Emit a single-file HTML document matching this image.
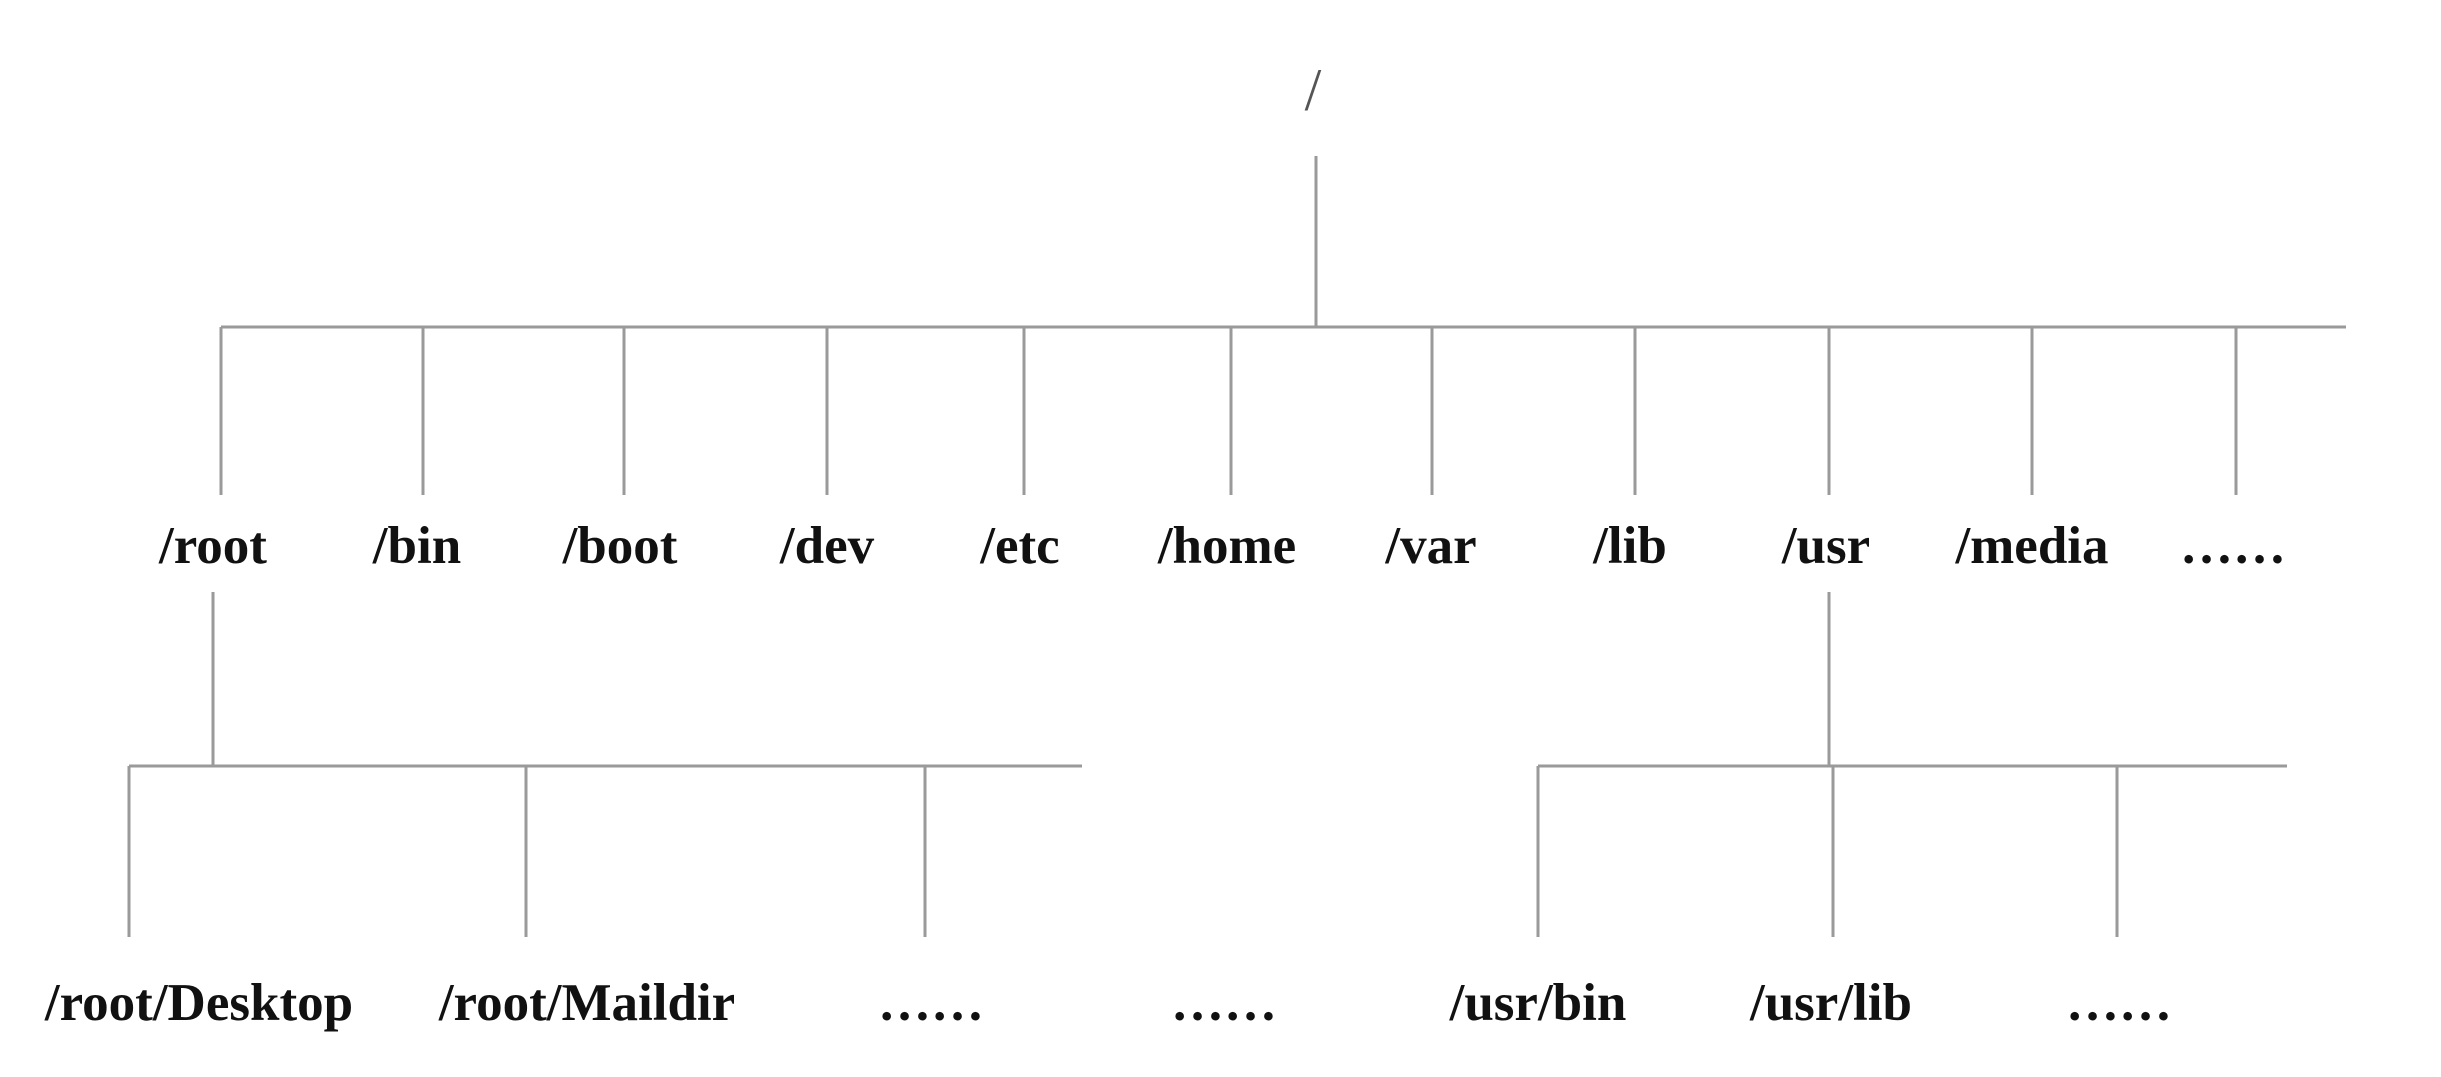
<!DOCTYPE html>
<html><head><style>
html,body{margin:0;padding:0;background:#fff;}
svg{display:block;}
text{font-family:"Liberation Serif",serif;font-weight:bold;font-size:53px;fill:#111;text-anchor:middle;}
</style></head><body>
<svg width="2441" height="1077" viewBox="0 0 2441 1077" xmlns="http://www.w3.org/2000/svg">
<g stroke="#9a9a9a" stroke-width="3" fill="none">
<line x1="1316" y1="156" x2="1316" y2="327"/>
<line x1="221" y1="327" x2="2346" y2="327"/>
<line x1="221" y1="327" x2="221" y2="495"/>
<line x1="423" y1="327" x2="423" y2="495"/>
<line x1="624" y1="327" x2="624" y2="495"/>
<line x1="827" y1="327" x2="827" y2="495"/>
<line x1="1024" y1="327" x2="1024" y2="495"/>
<line x1="1231" y1="327" x2="1231" y2="495"/>
<line x1="1432" y1="327" x2="1432" y2="495"/>
<line x1="1635" y1="327" x2="1635" y2="495"/>
<line x1="1829" y1="327" x2="1829" y2="495"/>
<line x1="2032" y1="327" x2="2032" y2="495"/>
<line x1="2236" y1="327" x2="2236" y2="495"/>
<line x1="213" y1="592" x2="213" y2="766"/>
<line x1="129" y1="766" x2="1082" y2="766"/>
<line x1="129" y1="766" x2="129" y2="937"/>
<line x1="526" y1="766" x2="526" y2="937"/>
<line x1="925" y1="766" x2="925" y2="937"/>
<line x1="1829" y1="592" x2="1829" y2="766"/>
<line x1="1538" y1="766" x2="2287" y2="766"/>
<line x1="1538" y1="766" x2="1538" y2="937"/>
<line x1="1833" y1="766" x2="1833" y2="937"/>
<line x1="2117" y1="766" x2="2117" y2="937"/>
</g>
<text x="1313" y="110" style="font-weight:normal;font-size:60px;fill:#555">/</text>
<text x="213" y="563">/root</text>
<text x="417" y="563">/bin</text>
<text x="620" y="563">/boot</text>
<text x="827" y="563">/dev</text>
<text x="1020" y="563">/etc</text>
<text x="1227" y="563">/home</text>
<text x="1431" y="563">/var</text>
<text x="1630" y="563">/lib</text>
<text x="1826" y="563">/usr</text>
<text x="2032" y="563">/media</text>
<text x="2233" y="563">……</text>
<text x="199" y="1020">/root/Desktop</text>
<text x="587" y="1020">/root/Maildir</text>
<text x="931" y="1020">……</text>
<text x="1224" y="1020">……</text>
<text x="1538" y="1020">/usr/bin</text>
<text x="1831" y="1020">/usr/lib</text>
<text x="2119" y="1020">……</text>
</svg>
</body></html>
